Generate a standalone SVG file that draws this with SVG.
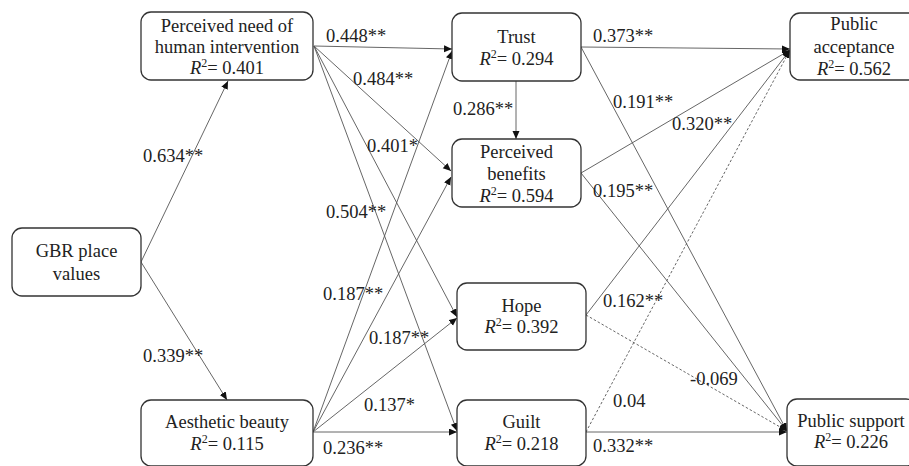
<svg xmlns="http://www.w3.org/2000/svg" width="909" height="466" viewBox="0 0 909 466" font-family="'Liberation Serif', 'Times New Roman', 'DejaVu Serif', serif">
<style>
.box{fill:#fff;stroke:#333;stroke-width:1.3}
text{font-family:'Liberation Serif','Times New Roman','DejaVu Serif',serif;font-size:18.5px;fill:#222}
.c{text-anchor:middle}
.e{fill:none;stroke:#555;stroke-width:0.9}
.d{fill:none;stroke:#555;stroke-width:0.9;stroke-dasharray:2.5 2}
.sup{font-size:12px}
</style>
<defs>
<marker id="ah" markerUnits="userSpaceOnUse" markerWidth="9" markerHeight="8" refX="8" refY="3.5" orient="auto">
<path d="M0,0 L8,3.5 L0,7 z" fill="#111"/>
</marker>
</defs>
<rect width="909" height="466" fill="#fff"/>
<g id="connectors">
<line class="e" x1="141" y1="262" x2="228" y2="81" marker-end="url(#ah)"/>
<line class="e" x1="141" y1="262" x2="227" y2="400" marker-end="url(#ah)"/>
<line class="e" x1="314" y1="46" x2="452" y2="49" marker-end="url(#ah)"/>
<line class="e" x1="314" y1="46" x2="451" y2="171" marker-end="url(#ah)"/>
<line class="e" x1="314" y1="46" x2="457" y2="317" marker-end="url(#ah)"/>
<line class="e" x1="314" y1="46" x2="457" y2="431" marker-end="url(#ah)"/>
<line class="e" x1="313" y1="432" x2="452" y2="51" marker-end="url(#ah)"/>
<line class="e" x1="313" y1="432" x2="451" y2="177" marker-end="url(#ah)"/>
<line class="e" x1="313" y1="432" x2="457" y2="318" marker-end="url(#ah)"/>
<line class="e" x1="313" y1="432" x2="457" y2="432" marker-end="url(#ah)"/>
<line class="e" x1="516" y1="81" x2="516" y2="139" marker-end="url(#ah)"/>
<line class="e" x1="581" y1="47" x2="790" y2="49" marker-end="url(#ah)"/>
<line class="e" x1="581" y1="47" x2="787" y2="431" marker-end="url(#ah)"/>
<line class="e" x1="581" y1="173" x2="790" y2="50" marker-end="url(#ah)"/>
<line class="e" x1="581" y1="173" x2="787" y2="431" marker-end="url(#ah)"/>
<line class="e" x1="586" y1="315" x2="790" y2="50" marker-end="url(#ah)"/>
<line class="d" x1="586" y1="315" x2="787" y2="431" marker-end="url(#ah)"/>
<line class="d" x1="586" y1="432" x2="790" y2="50" marker-end="url(#ah)"/>
<line class="e" x1="586" y1="432" x2="787" y2="432" marker-end="url(#ah)"/>
</g>
<g id="labels">
<text x="143" y="162">0.634**</text>
<text x="143" y="362">0.339**</text>
<text x="326" y="42">0.448**</text>
<text x="353" y="85">0.484**</text>
<text x="367" y="152">0.401*</text>
<text x="326" y="218">0.504**</text>
<text x="323" y="300">0.187**</text>
<text x="369" y="344">0.187**</text>
<text x="364" y="411">0.137*</text>
<text x="323" y="454">0.236**</text>
<text x="453" y="115">0.286**</text>
<text x="593" y="42">0.373**</text>
<text x="613" y="108">0.191**</text>
<text x="672" y="130">0.320**</text>
<text x="593" y="197">0.195**</text>
<text x="603" y="307">0.162**</text>
<text x="690" y="385">-0.069</text>
<text x="613" y="407">0.04</text>
<text x="593" y="452">0.332**</text>
</g>
<g id="gbr">
<rect class="box" x="12" y="228" width="129" height="68" rx="10"/>
<text class="c" x="76.5" y="257">GBR place</text>
<text class="c" x="76.5" y="280">values</text>
</g>
<g id="pnhi">
<rect class="box" x="141" y="12" width="172" height="68" rx="10"/>
<text class="c" x="227" y="32">Perceived need of</text>
<text class="c" x="227" y="53">human intervention</text>
<text class="c" x="227" y="74"><tspan font-style="italic">R</tspan><tspan class="sup" dy="-7">2</tspan><tspan dy="7">= 0.401</tspan></text>
</g>
<g id="aesthetic">
<rect class="box" x="141" y="400" width="172" height="66" rx="10"/>
<text class="c" x="227" y="428">Aesthetic beauty</text>
<text class="c" x="227" y="450"><tspan font-style="italic">R</tspan><tspan class="sup" dy="-7">2</tspan><tspan dy="7">= 0.115</tspan></text>
</g>
<g id="trust">
<rect class="box" x="452" y="13" width="129" height="68" rx="10"/>
<text class="c" x="516.5" y="43">Trust</text>
<text class="c" x="516.5" y="65"><tspan font-style="italic">R</tspan><tspan class="sup" dy="-7">2</tspan><tspan dy="7">= 0.294</tspan></text>
</g>
<g id="benefits">
<rect class="box" x="452" y="139" width="129" height="68" rx="10"/>
<text class="c" x="516.5" y="158">Perceived</text>
<text class="c" x="516.5" y="180">benefits</text>
<text class="c" x="516.5" y="202"><tspan font-style="italic">R</tspan><tspan class="sup" dy="-7">2</tspan><tspan dy="7">= 0.594</tspan></text>
</g>
<g id="hope">
<rect class="box" x="457" y="283" width="129" height="67" rx="10"/>
<text class="c" x="521.5" y="312">Hope</text>
<text class="c" x="521.5" y="333"><tspan font-style="italic">R</tspan><tspan class="sup" dy="-7">2</tspan><tspan dy="7">= 0.392</tspan></text>
</g>
<g id="guilt">
<rect class="box" x="457" y="400" width="129" height="66" rx="10"/>
<text class="c" x="521.5" y="428">Guilt</text>
<text class="c" x="521.5" y="450"><tspan font-style="italic">R</tspan><tspan class="sup" dy="-7">2</tspan><tspan dy="7">= 0.218</tspan></text>
</g>
<g id="acceptance">
<rect class="box" x="790" y="13" width="129" height="67" rx="10"/>
<text class="c" x="854" y="30">Public</text>
<text class="c" x="854" y="53">acceptance</text>
<text class="c" x="854" y="75"><tspan font-style="italic">R</tspan><tspan class="sup" dy="-7">2</tspan><tspan dy="7">= 0.562</tspan></text>
</g>
<g id="support">
<rect class="box" x="787" y="399" width="129" height="67" rx="10"/>
<text class="c" x="851" y="427">Public support</text>
<text class="c" x="851" y="448"><tspan font-style="italic">R</tspan><tspan class="sup" dy="-7">2</tspan><tspan dy="7">= 0.226</tspan></text>
</g>
</svg>
